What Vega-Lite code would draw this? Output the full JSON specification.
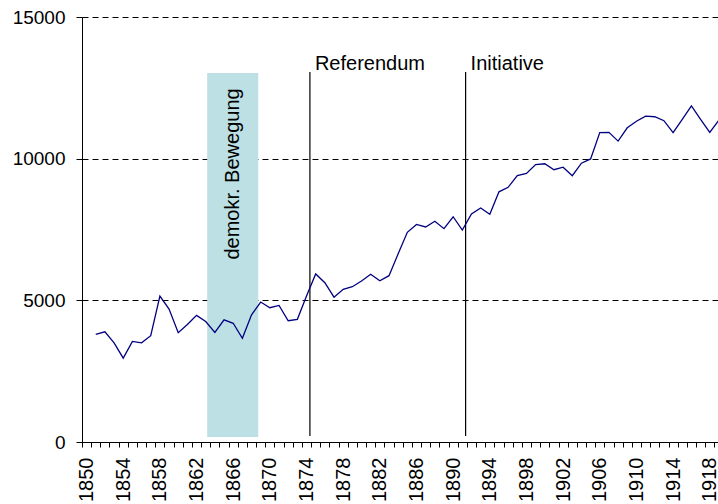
{
  "$schema": "https://vega.github.io/schema/vega-lite/v6.json",
  "width": 636,
  "height": 425,
  "autosize": {"type": "none"},
  "padding": {"left": 82, "top": 17, "right": 0, "bottom": 62},
  "background": "white",
  "config": {
    "view": {"stroke": null},
    "font": "Liberation Sans",
    "axis": {"labelFont": "Liberation Sans", "labelColor": "black", "domainColor": "black", "tickColor": "black", "labelFontSize": 19}
  },
  "datasets": {
    "series": [
      {"year": 1851, "value": 3800}, {"year": 1852, "value": 3890}, {"year": 1853, "value": 3500},
      {"year": 1854, "value": 2960}, {"year": 1855, "value": 3550}, {"year": 1856, "value": 3500},
      {"year": 1857, "value": 3750}, {"year": 1858, "value": 5150}, {"year": 1859, "value": 4690},
      {"year": 1860, "value": 3860}, {"year": 1861, "value": 4150}, {"year": 1862, "value": 4470},
      {"year": 1863, "value": 4250}, {"year": 1864, "value": 3870}, {"year": 1865, "value": 4310},
      {"year": 1866, "value": 4190}, {"year": 1867, "value": 3660}, {"year": 1868, "value": 4490},
      {"year": 1869, "value": 4940}, {"year": 1870, "value": 4740}, {"year": 1871, "value": 4820},
      {"year": 1872, "value": 4280}, {"year": 1873, "value": 4330}, {"year": 1874, "value": 5150},
      {"year": 1875, "value": 5930}, {"year": 1876, "value": 5620}, {"year": 1877, "value": 5110},
      {"year": 1878, "value": 5390}, {"year": 1879, "value": 5480}, {"year": 1880, "value": 5680},
      {"year": 1881, "value": 5920}, {"year": 1882, "value": 5690}, {"year": 1883, "value": 5870},
      {"year": 1884, "value": 6640}, {"year": 1885, "value": 7400}, {"year": 1886, "value": 7680},
      {"year": 1887, "value": 7590}, {"year": 1888, "value": 7790}, {"year": 1889, "value": 7530},
      {"year": 1890, "value": 7950}, {"year": 1891, "value": 7480}, {"year": 1892, "value": 8050},
      {"year": 1893, "value": 8260}, {"year": 1894, "value": 8040}, {"year": 1895, "value": 8830},
      {"year": 1896, "value": 8990}, {"year": 1897, "value": 9400}, {"year": 1898, "value": 9480},
      {"year": 1899, "value": 9790}, {"year": 1900, "value": 9820}, {"year": 1901, "value": 9610},
      {"year": 1902, "value": 9700}, {"year": 1903, "value": 9400}, {"year": 1904, "value": 9840},
      {"year": 1905, "value": 9990}, {"year": 1906, "value": 10920}, {"year": 1907, "value": 10930},
      {"year": 1908, "value": 10620}, {"year": 1909, "value": 11090}, {"year": 1910, "value": 11320},
      {"year": 1911, "value": 11500}, {"year": 1912, "value": 11480}, {"year": 1913, "value": 11340},
      {"year": 1914, "value": 10920}, {"year": 1915, "value": 11390}, {"year": 1916, "value": 11860},
      {"year": 1917, "value": 11390}, {"year": 1918, "value": 10930}, {"year": 1919, "value": 11360}
    ],
    "events": [
      {"label": "Referendum", "year": 1874.37, "low": 212, "high": 13060, "labelY": 13130},
      {"label": "Initiative", "year": 1891.36, "low": 212, "high": 13060, "labelY": 13130}
    ],
    "band": [
      {"label": "demokr. Bewegung", "start": 1863.16, "end": 1868.73, "mid": 1865.95, "low": 176, "high": 13020, "labelY": 9460}
    ]
  },
  "layer": [
    {
      "data": {"name": "band"},
      "mark": {"type": "rect", "color": "#BCE0E3"},
      "encoding": {
        "x": {"field": "start", "type": "quantitative", "scale": {"domain": [1849.5, 1918.9], "nice": false, "zero": false},
          "axis": {
            "values": [1849.5,1850.5,1851.5,1852.5,1853.5,1854.5,1855.5,1856.5,1857.5,1858.5,1859.5,1860.5,1861.5,1862.5,1863.5,1864.5,1865.5,1866.5,1867.5,1868.5,1869.5,1870.5,1871.5,1872.5,1873.5,1874.5,1875.5,1876.5,1877.5,1878.5,1879.5,1880.5,1881.5,1882.5,1883.5,1884.5,1885.5,1886.5,1887.5,1888.5,1889.5,1890.5,1891.5,1892.5,1893.5,1894.5,1895.5,1896.5,1897.5,1898.5,1899.5,1900.5,1901.5,1902.5,1903.5,1904.5,1905.5,1906.5,1907.5,1908.5,1909.5,1910.5,1911.5,1912.5,1913.5,1914.5,1915.5,1916.5,1917.5,1918.5],
            "tickCount": 500,
            "labelExpr": "(datum.value + 0.5) % 4 == 2 ? format(datum.value + 0.5, 'd') : ''",
            "labelAngle": 270, "labelAlign": "right", "labelBaseline": "middle",
            "labelFontSize": 20,
            "labelOffset": 4.6, "labelPadding": 10, "tickSize": 5, "grid": false, "title": null,
            "labelOverlap": false, "labelBound": false, "labelFlush": false
          }},
        "x2": {"field": "end"},
        "y": {"field": "low", "type": "quantitative", "scale": {"domain": [0, 15000], "nice": false},
          "axis": {"values": [0, 5000, 10000, 15000], "format": "d", "grid": true, "gridColor": "black", "gridDash": [6, 4], "gridWidth": 1, "tickSize": 6, "labelPadding": 11, "title": null}},
        "y2": {"field": "high"}
      }
    },
    {
      "data": {"name": "band"},
      "mark": {"type": "text", "angle": 270, "align": "center", "baseline": "middle", "fontSize": 20, "font": "Liberation Sans", "color": "black"},
      "encoding": {
        "x": {"field": "mid", "type": "quantitative"},
        "y": {"field": "labelY", "type": "quantitative"},
        "text": {"field": "label"}
      }
    },
    {
      "data": {"name": "events"},
      "mark": {"type": "rule", "color": "black", "strokeWidth": 1.2},
      "encoding": {
        "x": {"field": "year", "type": "quantitative"},
        "y": {"field": "low", "type": "quantitative"},
        "y2": {"field": "high"}
      }
    },
    {
      "data": {"name": "events"},
      "mark": {"type": "text", "align": "left", "baseline": "alphabetic", "dx": 5, "fontSize": 20, "font": "Liberation Sans", "color": "black"},
      "encoding": {
        "x": {"field": "year", "type": "quantitative"},
        "y": {"field": "labelY", "type": "quantitative"},
        "text": {"field": "label"}
      }
    },
    {
      "data": {"name": "series"},
      "mark": {"type": "line", "color": "#000080", "strokeWidth": 1.3, "clip": true},
      "encoding": {
        "x": {"field": "year", "type": "quantitative"},
        "y": {"field": "value", "type": "quantitative"}
      }
    }
  ]
}
